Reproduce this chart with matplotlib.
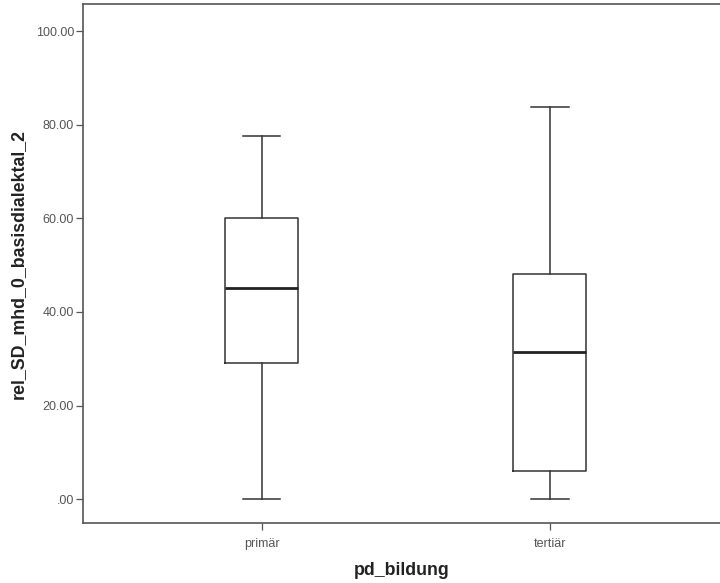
import matplotlib
matplotlib.use("Agg")
import matplotlib.pyplot as plt

plt.rcParams['font.family'] = ['Liberation Sans', 'DejaVu Sans']

categories = ["primär", "tertiär"]
whisker_low = [0.0, 0.0]
q1 = [29.1, 6.0]
median = [45.1, 31.4]
q3 = [60.0, 48.1]
whisker_high = [77.6, 83.8]
yticks = [0, 20, 40, 60, 80, 100]
ytick_labels = [".00", "20.00", "40.00", "60.00", "80.00", "100.00"]

stats = []
for i, c in enumerate(categories):
    stats.append(dict(label=c, whislo=whisker_low[i], q1=q1[i], med=median[i],
                      q3=q3[i], whishi=whisker_high[i], fliers=[]))

fig = plt.figure(figsize=(7.2, 5.83), dpi=100)
ax = fig.add_axes([83/720, 60/583, 1 - 83/720, (523-4)/583])

lc = "#333333"
ax.bxp(stats, positions=[0, 1], widths=0.253, showfliers=False,
       boxprops=dict(color=lc, linewidth=1.1),
       whiskerprops=dict(color=lc, linewidth=1.1),
       capprops=dict(color=lc, linewidth=1.1),
       medianprops=dict(color="#222222", linewidth=2.0),
       capwidths=0.13)

ax.set_xlim(-0.62, 1.59)
ax.set_ylim(-5.1, 105.8)
ax.set_yticks(yticks)
ax.set_yticklabels(ytick_labels)
ax.set_xticks([0, 1])
ax.set_xticklabels(categories)

for s in ["left", "top", "bottom"]:
    ax.spines[s].set_color("#555555")
    ax.spines[s].set_linewidth(1.2)
ax.spines["right"].set_visible(False)

ax.tick_params(axis="both", direction="out", length=5, width=0.9, color="#555555",
               labelsize=9, labelcolor="#555555", pad=1.5)
ax.tick_params(axis="x", pad=6)

ax.set_ylabel("rel_SD_mhd_0_basisdialektal_2", fontsize=12.8, fontweight="bold",
              color="#222222")
ax.set_xlabel("pd_bildung", fontsize=12.8, fontweight="bold", color="#222222")
ax.yaxis.set_label_coords(-0.102, 0.499)
ax.xaxis.set_label_coords(0.5, -0.0906)
ax.xaxis.label.set_va("center")
ax.yaxis.label.set_va("center")

fig.savefig("out.png", dpi=100)
